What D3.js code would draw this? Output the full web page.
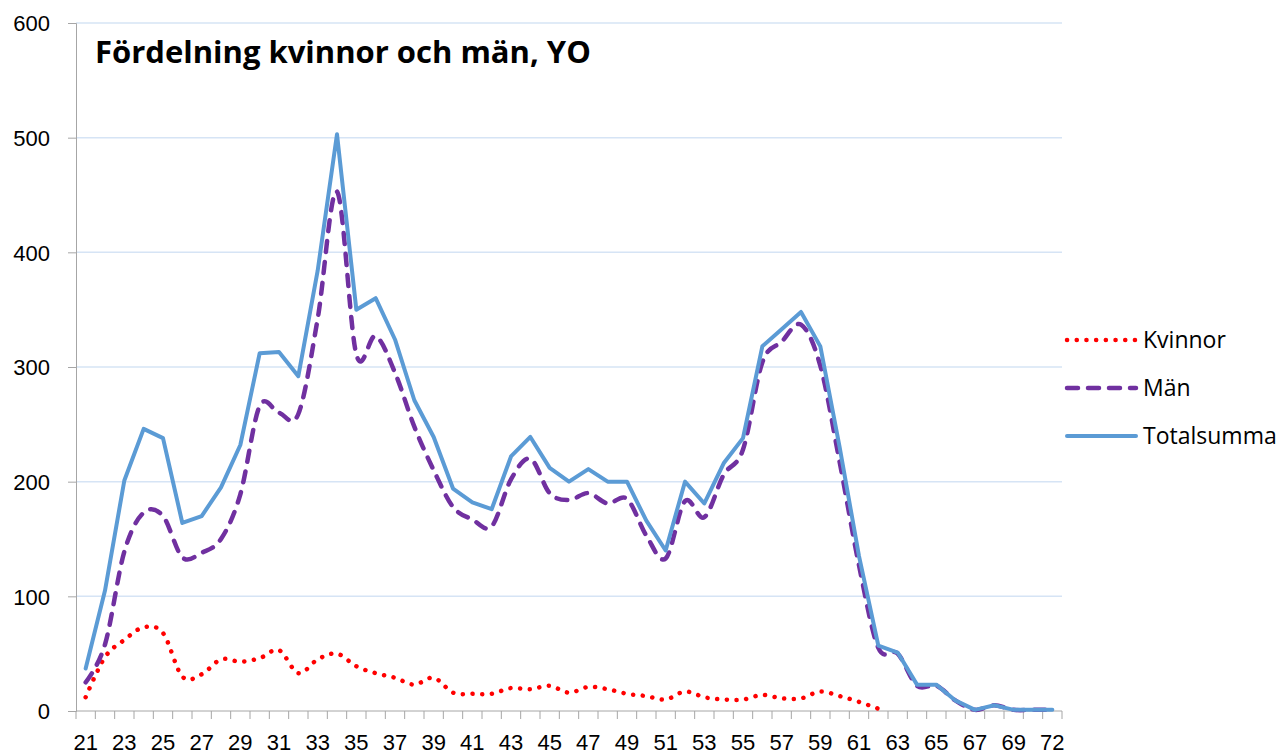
<!DOCTYPE html>
<html>
<head>
<meta charset="utf-8">
<script src="https://cdn.jsdelivr.net/npm/d3@7"></script>
<style>
  body { margin: 0; background: #fff; }
  svg { display: block; font-family: "Open Sans", "Liberation Sans", sans-serif; }
  .axis path, .axis line { stroke: #a6a6a6; }
  .axis text { font-size: 22px; fill: #000; }
  .grid line { stroke: #d6e4f5; stroke-width: 1.5; }
</style>
</head>
<body>
<div id="chart"></div>
<script>
// ages on the x axis (71 is absent in the source)
const ages = [21, 22, 23, 24, 25, 26, 27, 28, 29, 30, 31, 32, 33, 34, 35, 36, 37, 38, 39, 40,
  41, 42, 43, 44, 45, 46, 47, 48, 49, 50, 51, 52, 53, 54, 55, 56, 57, 58, 59, 60,
  61, 62, 63, 64, 65, 66, 67, 68, 69, 70, 72];

const kvinnor = [12, 47, 62, 73, 68, 30, 32, 45, 43, 46, 53, 33, 45, 50, 39, 33, 29, 23, 29, 16,
  15, 15, 20, 19, 22, 16, 21, 19, 15, 13, 10, 17, 12, 10, 10, 14, 11, 11, 17, 13,
  8, 2, null, null, null, null, null, null, null, null, null];

const man = [25, 58, 139, 173, 170, 134, 138, 150, 189, 266, 260, 259, 342, 453, 311, 327, 295, 248, 210, 178,
  167, 161, 202, 220, 190, 184, 190, 181, 185, 153, 133, 183, 169, 206, 228, 304, 322, 337, 301, 217,
  127, 55, 50, 22, 22, 9, 1, 5, 1, 1, 1];

const totalsumma = [37, 105, 201, 246, 238, 164, 170, 195, 232, 312, 313, 292, 384, 503, 350, 360, 324, 271, 239, 194,
  182, 176, 222, 239, 212, 200, 211, 200, 200, 166, 140, 200, 181, 216, 238, 318, 333, 348, 318, 230,
  135, 57, 51, 23, 23, 9, 1, 5, 1, 1, 1];

const yTicks = [0, 100, 200, 300, 400, 500, 600];
// every second age gets a label, plus the last one
const xLabels = ages.filter((d, i) => i % 2 === 0);

const title = "Fördelning kvinnor och män, YO";

const width = 1281, height = 756;
const margin = { top: 23, right: 219, bottom: 45, left: 76 };

const series = [
  { name: "Kvinnor", values: kvinnor, color: "#ff0000", width: 4.5, dash: "0.1 9.6", curve: d3.curveCardinal.tension(0) },
  { name: "Män", values: man, color: "#7030a0", width: 4.5, dash: "11 10", curve: d3.curveCardinal.tension(0) },
  { name: "Totalsumma", values: totalsumma, color: "#5b9bd5", width: 4, dash: null, curve: d3.curveLinear }
];

const svg = d3.select("#chart").append("svg")
  .attr("width", width)
  .attr("height", height);

const x = d3.scaleBand()
  .domain(ages)
  .range([margin.left, width - margin.right]);

const y = d3.scaleLinear()
  .domain([0, 600])
  .range([height - margin.bottom, margin.top]);

// gridlines
svg.append("g")
  .attr("class", "grid")
  .selectAll("line")
  .data(yTicks.filter(d => d > 0))
  .join("line")
  .attr("x1", margin.left)
  .attr("x2", width - margin.right)
  .attr("y1", d => y(d))
  .attr("y2", d => y(d));

// y axis
svg.append("g")
  .attr("class", "axis y-axis")
  .attr("transform", `translate(${margin.left},0)`)
  .call(d3.axisLeft(y).tickValues(yTicks).tickSize(8).tickPadding(18))
  .call(g => g.selectAll("text").attr("dy", "0.36em"));

// x axis: labels centred in the bands, tick marks on the band edges
const xAxis = svg.append("g")
  .attr("class", "axis x-axis")
  .attr("transform", `translate(0,${y(0)})`)
  .call(d3.axisBottom(x).tickValues(xLabels).tickSize(0).tickPadding(23));
xAxis.select(".domain").remove();
xAxis.append("line")
  .attr("x1", margin.left)
  .attr("x2", width - margin.right)
  .attr("stroke", "#a6a6a6");
xAxis.selectAll(".edge")
  .data(ages.concat(["end"]))
  .join("line")
  .attr("class", "edge")
  .attr("x1", d => d === "end" ? width - margin.right : x(d))
  .attr("x2", d => d === "end" ? width - margin.right : x(d))
  .attr("y1", 0)
  .attr("y2", 8)
  .attr("stroke", "#a6a6a6");

// lines
series.forEach(s => {
  const line = d3.line()
    .defined(d => d.v != null)
    .curve(s.curve)
    .x(d => x(d.age) + x.bandwidth() / 2)
    .y(d => y(d.v));
  svg.append("path")
    .datum(ages.map((a, i) => ({ age: a, v: s.values[i] })))
    .attr("fill", "none")
    .attr("stroke", s.color)
    .attr("stroke-width", s.width)
    .attr("stroke-linecap", "round")
    .attr("stroke-linejoin", "round")
    .attr("stroke-dasharray", s.dash)
    .attr("d", line);
});

// title
svg.append("text")
  .attr("x", 95)
  .attr("y", 63)
  .attr("font-size", 31)
  .attr("font-weight", "bold")
  .text(title);

// legend
const legend = svg.append("g")
  .attr("transform", `translate(1066,340)`)
  .selectAll("g")
  .data(series)
  .join("g")
  .attr("transform", (d, i) => `translate(0,${i * 48})`);
legend.append("line")
  .attr("x1", 1)
  .attr("x2", 70)
  .attr("stroke", d => d.color)
  .attr("stroke-width", d => d.width)
  .attr("stroke-linecap", "round")
  .attr("stroke-dasharray", d => d.dash);
legend.append("text")
  .attr("x", 77)
  .attr("dy", "0.36em")
  .attr("font-size", 23)
  .text(d => d.name);
</script>
</body>
</html>
